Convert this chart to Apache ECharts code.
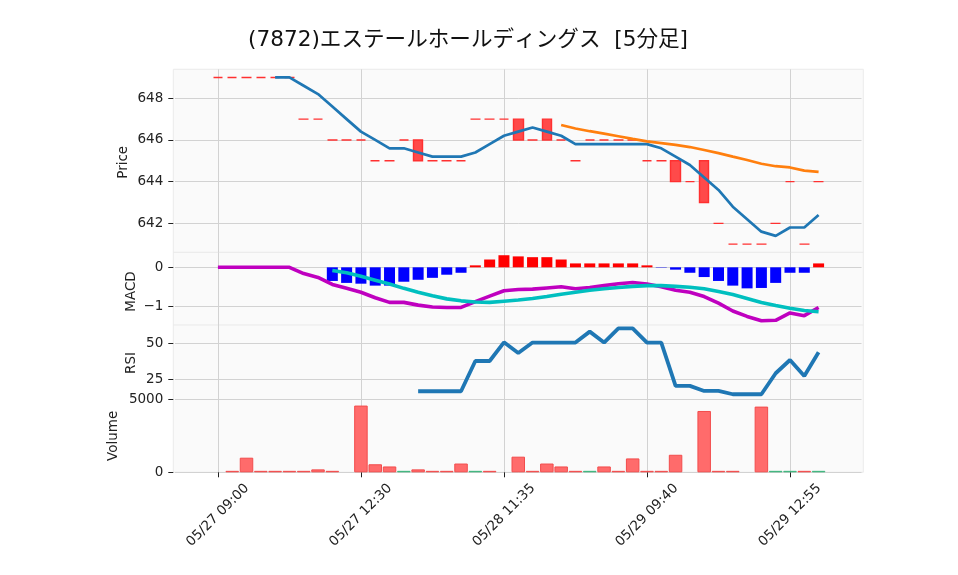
<!DOCTYPE html>
<html><head><meta charset="utf-8">
<script src="https://cdn.jsdelivr.net/npm/echarts@6/dist/echarts.min.js"></script>
<style>html,body{margin:0;padding:0;background:#fff}#c{width:958px;height:575px}</style>
</head><body><div id="c"></div>
<script>
const chartTitle = '(7872)エステールホールディングス  [5分足]';
const panelNames = ['Price', 'MACD', 'RSI', 'Volume'];
const tickIndex = [0, 10, 20, 30, 40];
const tickLabels = ['05/27 09:00', '05/27 12:30', '05/28 11:35', '05/29 09:40', '05/29 12:55'];

const opens  = [649,649,649,649,649,649,647,647,646,646,646,645,645,646,646,645,645,645,647,647,647,647,646,647,646,645,646,646,646,646,645,645,645,644,645,642,641,641,641,642,644,641,644];
const closes = [649,649,649,649,649,649,647,647,646,646,646,645,645,646,645,645,645,645,647,647,647,646,646,646,646,645,646,646,646,646,645,645,644,644,643,642,641,641,641,642,644,641,644];
const highs  = [649,649,649,649,649,649,647,647,646,646,646,645,645,646,646,645,645,645,647,647,647,647,646,647,646,645,646,646,646,646,645,645,645,644,645,642,641,641,641,642,644,641,644];
const lows   = [649,649,649,649,649,649,647,647,646,646,646,645,645,646,645,645,645,645,647,647,647,646,646,646,646,645,646,646,646,646,645,645,644,644,643,642,641,641,641,642,644,641,644];
const volumes = [0,100,1000,100,100,100,100,200,100,0,4570,550,400,100,200,100,100,600,100,100,0,1070,100,600,400,100,100,400,100,950,100,100,1200,0,4200,100,100,0,4500,100,100,100,100];

const ma5 = [null,null,null,null,649,649,648.6,648.2,647.6,647.0,646.4,646.0,645.6,645.6,645.4,645.2,645.2,645.2,645.4,645.8,646.2,646.4,646.6,646.4,646.2,645.8,645.8,645.8,645.8,645.8,645.8,645.6,645.2,644.8,644.2,643.6,642.8,642.2,641.6,641.4,641.8,641.8,642.4];
const ma25 = [null,null,null,null,null,null,null,null,null,null,null,null,null,null,null,null,null,null,null,null,null,null,null,null,646.72,646.55,646.42,646.3,646.18,646.05,645.93,645.85,645.76,645.66,645.52,645.37,645.2,645.04,644.86,644.74,644.68,644.53,644.47];

const macd = [0,0,0,0,0,0,-0.16,-0.26,-0.44,-0.54,-0.64,-0.78,-0.90,-0.90,-0.97,-1.02,-1.03,-1.03,-0.88,-0.74,-0.60,-0.57,-0.56,-0.53,-0.50,-0.55,-0.52,-0.47,-0.42,-0.39,-0.43,-0.50,-0.59,-0.64,-0.75,-0.92,-1.12,-1.26,-1.37,-1.36,-1.17,-1.24,-1.03];
const signal = [null,null,null,null,null,null,null,null,-0.08,-0.14,-0.23,-0.33,-0.43,-0.54,-0.64,-0.73,-0.81,-0.86,-0.89,-0.90,-0.87,-0.84,-0.80,-0.75,-0.69,-0.64,-0.59,-0.55,-0.52,-0.49,-0.47,-0.47,-0.49,-0.51,-0.55,-0.62,-0.70,-0.80,-0.90,-0.98,-1.05,-1.11,-1.14];
const hist = [null,null,null,null,null,null,null,null,-0.35,-0.40,-0.42,-0.47,-0.47,-0.37,-0.32,-0.27,-0.19,-0.14,0.05,0.20,0.31,0.28,0.26,0.26,0.20,0.10,0.10,0.10,0.10,0.10,0.05,-0.01,-0.06,-0.14,-0.25,-0.35,-0.47,-0.54,-0.53,-0.40,-0.14,-0.14,0.10];
const rsi = [null,null,null,null,null,null,null,null,null,null,null,null,null,null,16.7,16.7,16.7,16.7,37.7,37.7,50.7,43.3,50.5,50.5,50.5,50.5,58.1,50.5,60.4,60.4,50.5,50.5,20.4,20.4,16.9,16.9,14.6,14.6,14.6,29.2,38.4,27.3,43.8];

const PAD = 3;
const N = closes.length;
const cats = [];
for (let i = -PAD; i < N + PAD; i++) cats.push(String(i));
const pad = arr => Array(PAD).fill(null).concat(arr, Array(PAD).fill(null));

const candleData = pad(closes.map((c, i) => [opens[i], c, lows[i], highs[i]])).map(d => d === null ? '-' : d);
const volData = pad(volumes.map((v, i) => ({
  value: v,
  itemStyle: v === 0 ? { borderWidth: 0, color: 'rgba(0,0,0,0)' } :
    ((i > 0 && closes[i] > closes[i - 1])
      ? { color: '#53c690', borderColor: '#3fb57e' }
      : { color: '#ff6b6b', borderColor: '#f24c4c' })
})));
const histData = pad(hist.map(h => h === null ? null : ({ value: h, itemStyle: { color: h >= 0 ? '#ff0000' : '#0000ff' } })));

const L = 175, R = 958 - 861.5;
const grids = [
  { left: L, right: R, top: 69.3, height: 183 },
  { left: L, right: R, top: 252.3, height: 72.7 },
  { left: L, right: R, top: 325, height: 74.3 },
  { left: L, right: R, top: 399.3, height: 73 }
];
const nameCenters = [[123.3, 162.3], [131.3, 291.5], [131.8, 363], [113.3, 435.8]];
const isTick = idx => tickIndex.indexOf(idx - PAD) >= 0;
const font = "'DejaVu Sans', 'Noto Sans CJK JP', sans-serif";
const gridColor = '#d2d2d2';

const xAxes = grids.map((g, k) => ({
  type: 'category', gridIndex: k, data: cats, boundaryGap: false,
  axisLine: { show: false },
  axisTick: { show: k === 3, interval: isTick, length: 5, lineStyle: { color: '#222' } },
  axisLabel: {
    show: k === 3, interval: isTick, rotate: 45, align: 'center', verticalAlign: 'middle',
    margin: 43, fontSize: 13.5, fontFamily: font, color: '#222',
    formatter: v => { const j = tickIndex.indexOf(Number(v)); return j >= 0 ? tickLabels[j] : ''; }
  },
  splitLine: { show: true, interval: isTick, lineStyle: { color: gridColor, width: 1 } }
}));

function yAx(k, min, max, vals, fmt) {
  return {
    type: 'value', gridIndex: k, min: min, max: max, offset: 1.7,
    axisLine: { show: false },
    axisTick: { show: true, length: 5, customValues: vals, lineStyle: { color: '#222' } },
    axisLabel: { customValues: vals, margin: 10, fontSize: 13.5, fontFamily: font, color: '#222', formatter: fmt },
    splitLine: { show: true, lineStyle: { color: gridColor, width: 1 } }
  };
}
const minusFmt = v => (v < 0 ? '\u2212' + Math.abs(v) : String(v));

const yAxes = [
  yAx(0, 640.61, 649.39, [642, 644, 646, 648], minusFmt),
  yAx(1, -1.48, 0.385, [-1, 0], minusFmt),
  yAx(2, 11.1, 62.7, [25, 50], minusFmt),
  yAx(3, 0, 5000, [0, 5000], minusFmt)
];

const nameTexts = panelNames.map((t, k) => ({
  type: 'text', silent: true, x: nameCenters[k][0], y: nameCenters[k][1], rotation: Math.PI / 2,
  style: { text: t, font: "13.5px 'DejaVu Sans', sans-serif", fill: '#222',
    align: 'center', verticalAlign: 'middle', textAlign: 'center', textVerticalAlign: 'middle' }
}));

const chart = echarts.init(document.getElementById('c'), null, { renderer: 'canvas' });
chart.setOption({
  animation: false,
  backgroundColor: '#ffffff',
  title: {
    text: chartTitle, left: 248, top: 30, padding: 0,
    textStyle: { fontSize: 21.6, fontWeight: 'normal', fontFamily: font, color: '#111' }
  },
  graphic: [
    { type: 'rect', z: -100, silent: true, shape: { x: 173.3, y: 69.3, width: 690, height: 403 },
      style: { fill: '#fafafa', stroke: '#ebebeb', lineWidth: 1 } },
    { type: 'line', z: -90, silent: true, shape: { x1: 173.3, y1: 252.3, x2: 863.3, y2: 252.3 }, style: { stroke: '#e9e9e9', lineWidth: 1 } },
    { type: 'line', z: -90, silent: true, shape: { x1: 173.3, y1: 325, x2: 863.3, y2: 325 }, style: { stroke: '#e9e9e9', lineWidth: 1 } }
  ].concat(nameTexts),
  grid: grids,
  xAxis: xAxes,
  yAxis: yAxes,
  series: [
    { type: 'candlestick', xAxisIndex: 0, yAxisIndex: 0, data: candleData, barWidth: 10,
      itemStyle: { color: '#ff4a4a', color0: '#ff4a4a', borderColor: '#ff3030', borderColor0: '#ff3030', borderColorDoji: '#ff3030', borderWidth: 1.4 } },
    { type: 'line', xAxisIndex: 0, yAxisIndex: 0, data: pad(ma5), symbol: 'none', lineStyle: { color: '#1f77b4', width: 2.7 } },
    { type: 'line', xAxisIndex: 0, yAxisIndex: 0, data: pad(ma25), symbol: 'none', lineStyle: { color: '#ff7f0e', width: 2.7 } },
    { type: 'bar', xAxisIndex: 1, yAxisIndex: 1, data: histData, barWidth: 11 },
    { type: 'line', xAxisIndex: 1, yAxisIndex: 1, data: pad(macd), symbol: 'none', lineStyle: { color: '#bf00bf', width: 3.6 } },
    { type: 'line', xAxisIndex: 1, yAxisIndex: 1, data: pad(signal), symbol: 'none', lineStyle: { color: '#00bfbf', width: 3.6 } },
    { type: 'line', xAxisIndex: 2, yAxisIndex: 2, data: pad(rsi), symbol: 'none', lineStyle: { color: '#1f77b4', width: 3.8 } },
    { type: 'bar', xAxisIndex: 3, yAxisIndex: 3, data: volData, barWidth: 13.5, itemStyle: { borderWidth: 1 } }
  ]
});
</script></body></html>
